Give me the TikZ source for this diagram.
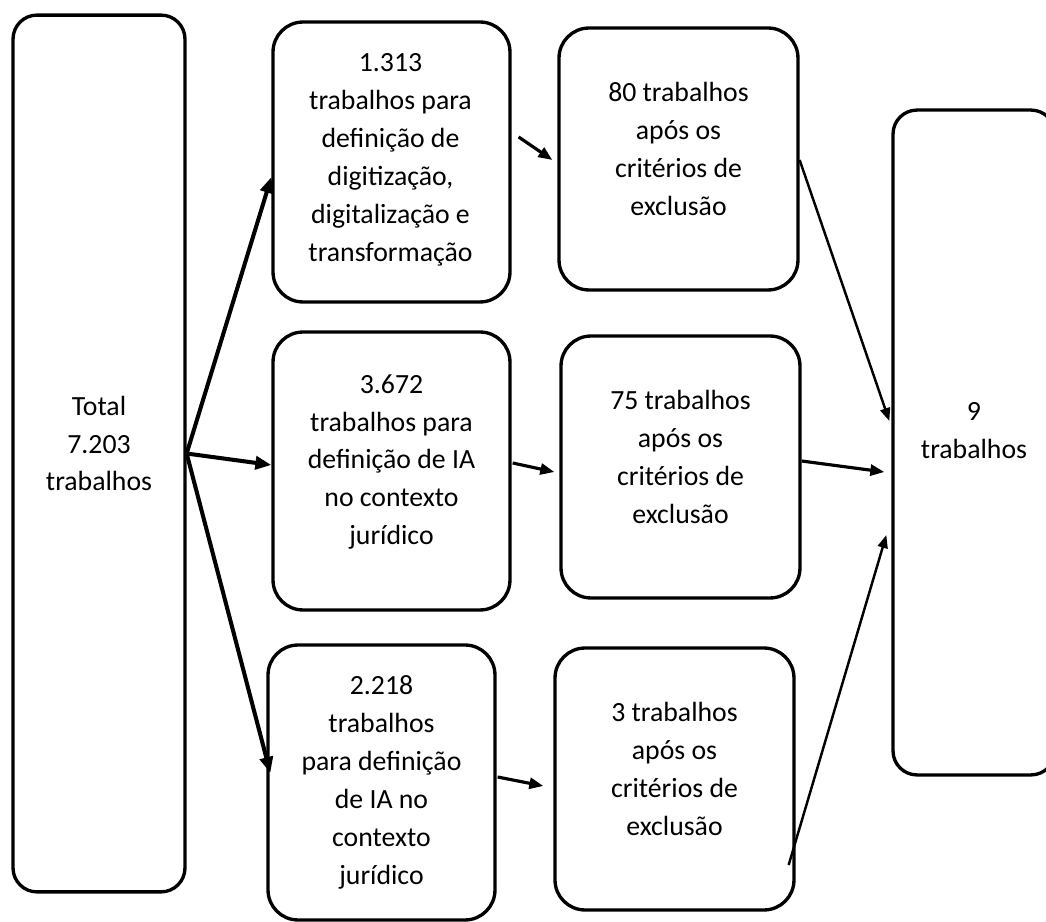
\documentclass[tikz,border=0pt]{standalone}
\usepackage{fontspec}
\setmainfont{Carlito}
\usetikzlibrary{arrows.meta}
\tikzset{
    box/.style={draw, line width=1.9pt, rounded corners=0.6cm, inner sep=0pt},
    outer box/.style={box, rounded corners=0.48cm},
    boxtext/.style={align=center, inner sep=0pt,
                    font=\fontsize{15.8pt}{21.6pt}\selectfont},
    flow/.style={-{Triangle[length=0.28cm, width=0.22cm]}, line width=1.8pt},
    fork/.style={-{Triangle[length=0.32cm, width=0.26cm]}, line width=2.3pt},
    merge/.style={-{Triangle[length=0.26cm, width=0.2cm]}, line width=1.4pt},
}

\begin{document}
\begin{tikzpicture}[x=0.02cm, y=-0.02cm]
    \path[use as bounding box] (0,0) rectangle (1046,922);

    % total and final
    \node[outer box, minimum width=3.44cm, minimum height=17.54cm] (total) at (99,453.5) {};
    \node[boxtext] (totaltext) at ([shift={(0,-10)}]total.center) {Total\\7.203\\trabalhos};
    \node[outer box, minimum width=3.24cm, minimum height=13.3cm] (final) at (974,442.5) {};
    \node[boxtext] (finaltext) at ([shift={(0,-11.5)}]final.center) {9\\trabalhos};

    % searches
    \node[box, minimum width=4.74cm, minimum height=5.6cm] (search1) at (391.5,162) {};
    \node[boxtext] (searchtext1) at ([shift={(-1,-2)}]search1.center)
        {1.313\\trabalhos para\\definição de\\digitização,\\digitalização e\\transformação};
    \node[box, minimum width=4.74cm, minimum height=5.56cm] (search2) at (391.5,471) {};
    \node[boxtext] (searchtext2) at ([shift={(0,-9)}]search2.center)
        {3.672\\trabalhos para\\definição de IA\\no contexto\\jurídico};
    \node[box, minimum width=4.54cm, minimum height=5.5cm] (search3) at (381.5,782.5) {};
    \node[boxtext] (searchtext3) at (search3.center)
        {2.218\\trabalhos\\para definição\\de IA no\\contexto\\jurídico};

    % exclusion criteria
    \foreach \i/\x/\y/\n in {1/678.5/159/80, 2/680.5/467/75, 3/674.5/779/3} {
        \node[box, minimum width=4.78cm, minimum height=5.24cm] (screen\i) at (\x,\y) {};
        \node[boxtext] (screentext\i) at ([shift={(0,-10)}]screen\i.center)
            {\n{} trabalhos\\após os\\critérios de\\exclusão};
    }

    \draw[fork] (total.east) -- ([shift={(0,15)}]search1.west);
    \draw[fork] (total.east) -- ([shift={(0,-6)}]search2.west);
    \draw[fork] (total.east) -- ([shift={(4,-9.5)}]search3.west);

    \draw[flow] ([shift={(7,-25)}]search1.east) -- ([shift={(-5,1)}]screen1.west);
    \draw[flow] ([shift={(1,-8)}]search2.east) -- ([shift={(-5,5)}]screen2.west);
    \draw[flow] ([shift={(1,-5.5)}]search3.east) -- ([shift={(-10,7)}]screen3.west);

    \draw[merge] ([shift={(0,1)}]screen1.east) -- ([shift={(-2,-21.5)}]final.west);
    \draw[flow] ([shift={(0,-6)}]screen2.east) -- ([shift={(-7,29.5)}]final.west);
    \draw[merge] ([shift={(-7,86)}]screen3.east) -- ([shift={(-5,92.5)}]final.west);
\end{tikzpicture}
\end{document}
